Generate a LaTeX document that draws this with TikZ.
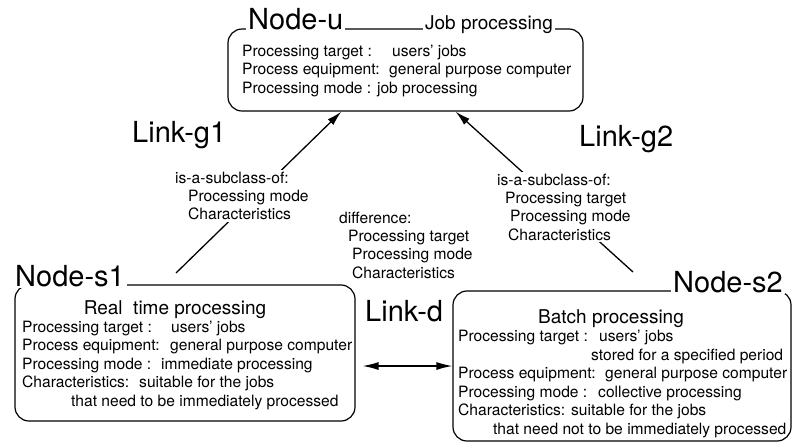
\documentclass[tikz,border=0pt]{standalone}
\usepackage{fontspec}
\setmainfont{TeX Gyre Heros}
\usetikzlibrary{arrows.meta}
\newcommand{\myrow}[3]{\makebox[#1pt][l]{#2}#3}
\begin{document}
\begin{tikzpicture}[x=1pt,y=-1pt]
    \tikzset{
        classbox/.style={draw,line width=1.2pt,rounded corners=14pt,inner sep=0pt},
        boxtext/.style={anchor=base west,align=left,inner sep=0pt,font=\fontsize{15.6}{18.5}\selectfont},
        linktext/.style={boxtext,fill=white,inner sep=2pt,font=\fontsize{15.6}{18.3}\selectfont},
        bigname/.style={anchor=base west,fill=white,inner sep=2pt,font=\fontsize{29}{34}\selectfont},
        subtitle/.style={anchor=base,fill=white,inner sep=2pt,font=\fontsize{19}{22}\selectfont},
        link/.style={line width=1.3pt,-{Latex[length=15pt,width=8pt]}},
        dlink/.style={line width=1.3pt,{Latex[length=16pt,width=8pt]}-{Latex[length=16pt,width=8pt]}},}
    \useasboundingbox (0,0) rectangle (794,445);
    % class boxes
    \node[classbox,minimum width=355pt,minimum height=82pt] (u) at (405.5,70) {};
    \node[classbox,minimum width=340pt,minimum height=136pt] (s1) at (185,353) {};
    \node[classbox,minimum width=338pt,minimum height=150pt] (s2) at (622,366) {};
    % links
    \coordinate (g1s) at (176,273);
    \coordinate (g2s) at (633,272);
    \draw[link] (g1s) -- ([xshift=114pt]u.south west);
    \draw[link] (g2s) -- ([xshift=-128pt]u.south east);
    \draw[dlink,shorten <=7pt] (s2.west -| s1.east) -- (s2.west);
    % box contents (placed at the baseline of the last line)
    \node[boxtext] (ut) at (242,93) {\myrow{150}{Processing target :}{users' jobs}\\
        \myrow{147}{Process equipment:}{general purpose computer}\\
        Processing mode : job processing};
    \node[boxtext] (s1t) at (22,406) {\myrow{149}{Processing target :}{users' jobs}\\
        \myrow{148}{Process equipment:}{general purpose computer}\\
        \myrow{139}{Processing mode :}{immediate processing}\\
        \myrow{117}{Characteristics:}{suitable for the jobs}\\
        \hspace*{49pt}that need to be immediately processed};
    \node[boxtext] (s2t) at (458,434) {\myrow{141}{Processing target :}{users' jobs}\\
        \hspace*{133pt}stored for a specified period\\
        \myrow{147}{Process equipment:}{general purpose computer}\\
        \myrow{140}{Processing mode :}{collective processing}\\
        \myrow{113}{Characteristics:}{suitable for the jobs}\\
        \hspace*{35pt}that need not to be immediately processed};
    % link texts
    \node[linktext] (g1t) at (173,219.6) {is-a-subclass-of:\\
        \hspace*{13pt}Processing mode\\
        \hspace*{13pt}Characteristics};
    \node[linktext] (dt) at (337,278) {difference:\\
        \hspace*{9pt}Processing target\\
        \hspace*{13pt}Processing mode\\
        \hspace*{13pt}Characteristics};
    \node[linktext] (g2t) at (495,240) {is-a-subclass-of:\\
        \hspace*{8pt}Processing target\\
        \hspace*{13pt}Processing mode\\
        \hspace*{11pt}Characteristics};
    % names
    \node[bigname] (nu) at (246,29) {Node-u};
    \node[subtitle] (tu) at (489,29) {Job processing};
    \node[bigname] (ns1) at (13,286) {Node-s1};
    \node[subtitle] (ts1) at (175,314) {Real\ \ time processing};
    \node[bigname] (ns2) at (671,292) {Node-s2};
    \node[subtitle] (ts2) at (611,323) {Batch processing};
    \node[bigname] (lg1) at (130,142) {Link-g1};
    \node[bigname] (lg2) at (577,146) {Link-g2};
    \node[bigname] (ld) at (363,321) {Link-d};
\end{tikzpicture}
\end{document}
